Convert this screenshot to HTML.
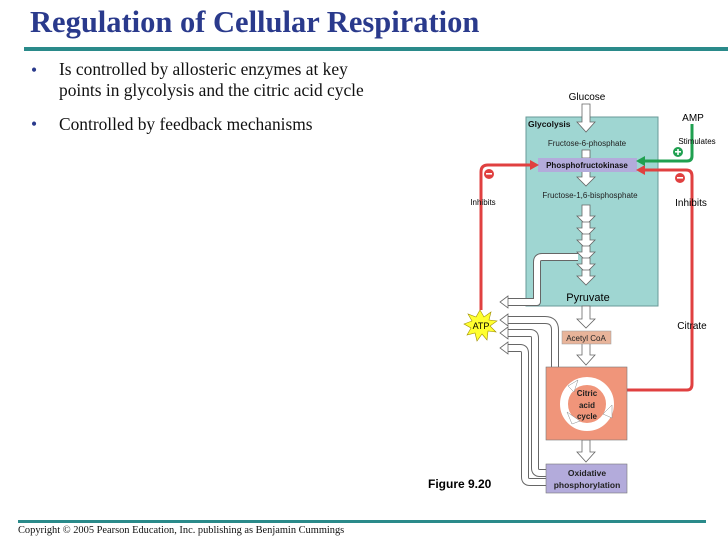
<!DOCTYPE html>
<html><head><style>
body{margin:0;width:728px;height:546px;background:#fff;overflow:hidden;position:relative;font-family:"Liberation Sans",sans-serif}
.t{position:absolute;font-family:"Liberation Serif",serif;white-space:nowrap}
</style></head><body>
<div class="t" style="left:30px;top:5px;font-size:30.5px;font-weight:bold;color:#2a3a8c">Regulation of Cellular Respiration</div>
<div style="position:absolute;left:24px;top:47px;width:704px;height:4px;background:#2a8a8a"></div>
<div class="t" style="left:31px;top:60px;font-size:17.4px;color:#2a3a8c">•</div>
<div class="t" style="left:59px;top:59px;font-size:17.4px;line-height:21px;color:#111">Is controlled by allosteric enzymes at key<br>points in glycolysis and the citric acid cycle</div>
<div class="t" style="left:31px;top:114px;font-size:17.4px;color:#2a3a8c">•</div>
<div class="t" style="left:59px;top:114px;font-size:17.4px;color:#111">Controlled by feedback mechanisms</div>
<div style="position:absolute;left:18px;top:520px;width:688px;height:3px;background:#2a8a8a"></div>
<div class="t" style="left:18px;top:525px;font-size:10.4px;color:#111">Copyright © 2005 Pearson Education, Inc. publishing as Benjamin Cummings</div>

<svg width="728" height="546" style="position:absolute;left:0;top:0" font-family="Liberation Sans, sans-serif">
<rect x="526" y="117" width="132" height="189" fill="#9fd6d2" stroke="#6a9a98"/>
<g fill="#fff" stroke="#666" stroke-width="0.8">
<polygon points="582,104 590,104 590,122 595,122 586,132 577,122 582,122"/>
<polygon points="582,150 590,150 590,158 582,158"/>
<polygon points="582,171 590,171 590,177 595,177 586,186 577,177 582,177"/>
<polygon points="582,205 590,205 590,216 595,216 586,225 577,216 582,216"/>
<polygon points="582,222 590,222 590,228 595,228 586,237 577,228 582,228"/>
<polygon points="582,234 590,234 590,240 595,240 586,249 577,240 582,240"/>
<polygon points="582,246 590,246 590,252 595,252 586,261 577,252 582,252"/>
<polygon points="582,258 590,258 590,264 595,264 586,273 577,264 582,264"/>
<polygon points="582,270 590,270 590,276 595,276 586,285 577,276 582,276"/>
<polygon points="582,306 590,306 590,319 595,319 586,328 577,319 582,319"/>
<polygon points="582,343 590,343 590,355 595,355 586,365 577,355 582,355"/>
<polygon points="582,440 590,440 590,452 595,452 586,462 577,452 582,452"/>
</g>
<g fill="none" stroke-linejoin="round">
<path d="M578,257 H542 Q537,257 537,262 V302 H505" stroke="#666" stroke-width="8"/>
<path d="M578,257 H542 Q537,257 537,262 V302 H505" stroke="#fff" stroke-width="6"/>
<path d="M555,367 V330 Q555,320 545,320 H505" stroke="#666" stroke-width="8"/>
<path d="M555,367 V330 Q555,320 545,320 H505" stroke="#fff" stroke-width="6"/>
<path d="M546,473 H540 Q535,473 535,468 V338 Q535,333 530,333 H505" stroke="#666" stroke-width="8"/>
<path d="M546,473 H540 Q535,473 535,468 V338 Q535,333 530,333 H505" stroke="#fff" stroke-width="6"/>
<path d="M546,482 H530 Q525,482 525,477 V353 Q525,348 520,348 H505" stroke="#666" stroke-width="8"/>
<path d="M546,482 H530 Q525,482 525,477 V353 Q525,348 520,348 H505" stroke="#fff" stroke-width="6"/>
</g>
<g fill="#fff" stroke="#666" stroke-width="0.8">
<polygon points="508,296 500,302 508,308"/>
<polygon points="508,314 500,320 508,326"/>
<polygon points="508,327 500,333 508,339"/>
<polygon points="508,342 500,348 508,354"/>
</g>
<rect x="538" y="158" width="99" height="14" fill="#b3abdb"/>
<text x="587" y="168" font-size="8" font-weight="bold" text-anchor="middle" fill="#111">Phosphofructokinase</text>
<text x="587" y="100" font-size="10" text-anchor="middle">Glucose</text>
<text x="528" y="127" font-size="8.5" font-weight="bold" fill="#111">Glycolysis</text>
<text x="587" y="146" font-size="8" text-anchor="middle" fill="#222">Fructose-6-phosphate</text>
<text x="590" y="198" font-size="8" text-anchor="middle" fill="#222">Fructose-1,6-bisphosphate</text>
<text x="588" y="301" font-size="11" text-anchor="middle">Pyruvate</text>
<g fill="none" stroke="#e04040" stroke-width="3">
<path d="M481,310 V172 Q481,165 488,165 H532"/>
<path d="M612,390 H687 Q692,390 692,384 V176 Q692,170 686,170 H644"/>
</g>
<polygon points="530,160 539,165 530,170" fill="#e04040"/>
<polygon points="645,165 636,170 645,175" fill="#e04040"/>
<path d="M692,124 V156 Q692,161 687,161 H644" fill="none" stroke="#20a050" stroke-width="3"/>
<polygon points="645,156 636,161 645,166" fill="#20a050"/>
<circle cx="489" cy="174" r="5" fill="#e04040"/><rect x="486" y="173" width="6" height="1.6" fill="#fff"/>
<circle cx="680" cy="178" r="5" fill="#e04040"/><rect x="677" y="177" width="6" height="1.6" fill="#fff"/>
<circle cx="678" cy="152" r="5" fill="#20a050"/><rect x="675" y="151" width="6" height="1.6" fill="#fff"/><rect x="677.2" y="149" width="1.6" height="6" fill="#fff"/>
<text x="483" y="205" font-size="8" text-anchor="middle">Inhibits</text>
<text x="691" y="206" font-size="10" text-anchor="middle">Inhibits</text>
<text x="693" y="121" font-size="10" text-anchor="middle">AMP</text>
<text x="697" y="144" font-size="8" text-anchor="middle">Stimulates</text>
<text x="692" y="329" font-size="10" text-anchor="middle">Citrate</text>
<polygon points="480,310 484,317 491,312 489,320 497,321 490,326 496,332 488,331 487,340 482,334 477,341 475,333 467,335 471,328 464,324 472,321 468,314 476,317" fill="#ffff30" stroke="#a09000" stroke-width="0.6"/>
<text x="481" y="329" font-size="9" text-anchor="middle">ATP</text>
<rect x="562" y="331" width="49" height="13" fill="#e8b49a" stroke="#999" stroke-width="0.5"/>
<text x="586" y="341" font-size="8" text-anchor="middle" fill="#222">Acetyl CoA</text>
<rect x="546" y="367" width="81" height="73" fill="#f0957a" stroke="#777" stroke-width="0.6"/>
<circle cx="587" cy="404" r="23" fill="none" stroke="#fff" stroke-width="8"/>
<polygon points="568,386 578,380 574,392" fill="#fff" stroke="#888" stroke-width="0.5"/>
<polygon points="603,414 612,405 612,418" fill="#fff" stroke="#888" stroke-width="0.5"/>
<polygon points="572,424 567,412 580,421" fill="#fff" stroke="#888" stroke-width="0.5"/>
<text x="587" y="396" font-size="8" font-weight="bold" text-anchor="middle" fill="#222">Citric</text>
<text x="587" y="408" font-size="8" font-weight="bold" text-anchor="middle" fill="#222">acid</text>
<text x="587" y="419" font-size="8" font-weight="bold" text-anchor="middle" fill="#222">cycle</text>
<rect x="546" y="464" width="81" height="29" fill="#b3abdb" stroke="#777" stroke-width="0.6"/>
<text x="587" y="476" font-size="8.5" font-weight="bold" text-anchor="middle" fill="#222">Oxidative</text>
<text x="587" y="488" font-size="8.5" font-weight="bold" text-anchor="middle" fill="#222">phosphorylation</text>
<text x="428" y="488" font-size="12" font-weight="bold">Figure 9.20</text>
</svg>
</body></html>
